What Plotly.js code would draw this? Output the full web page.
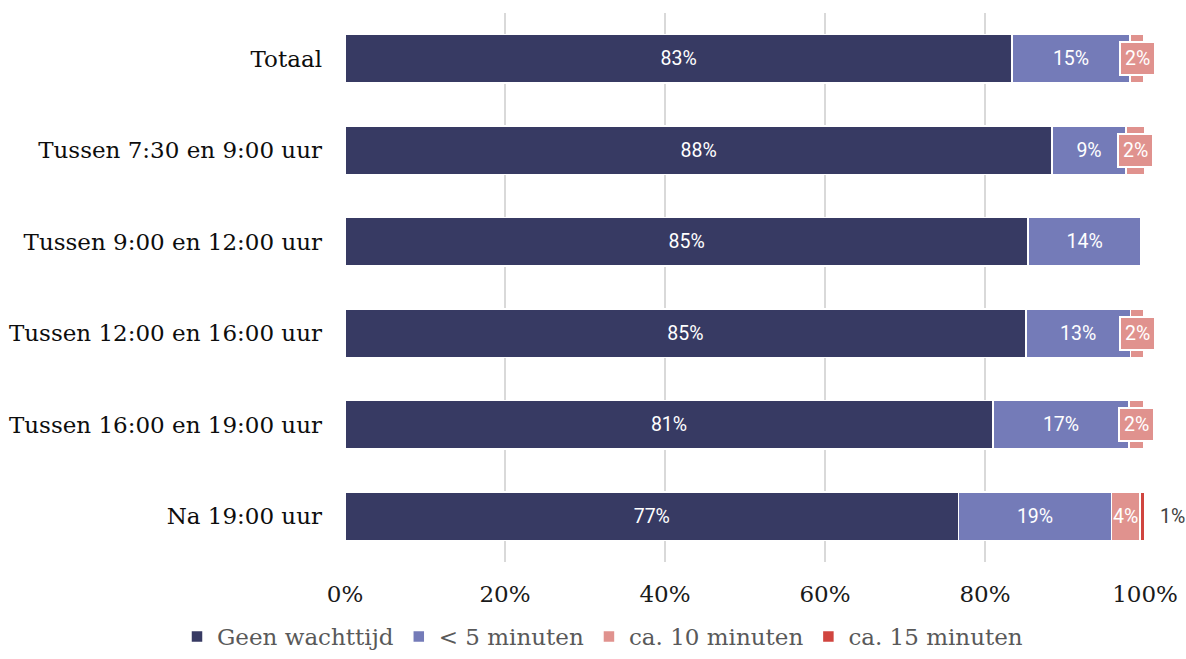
<!DOCTYPE html>
<html>
<head>
<meta charset="utf-8">
<script src="https://cdn.plot.ly/plotly-3.0.1.min.js"></script>
<style>html,body{margin:0;padding:0;background:#fff;}#chart{width:1186px;height:659px;}</style>
</head>
<body>
<div id="chart"></div>
<script>
const categories = ["Totaal", "Tussen 7:30 en 9:00 uur", "Tussen 9:00 en 12:00 uur", "Tussen 12:00 en 16:00 uur", "Tussen 16:00 en 19:00 uur", "Na 19:00 uur"];
const seriesNames = ["Geen wachttijd", "< 5 minuten", "ca. 10 minuten", "ca. 15 minuten"];
const geen = [83.4, 88.4, 85.4, 85.1, 81.0, 76.7];
const vijf = [14.7, 9.2, 14.1, 13.1, 17.0, 19.1];
const tien = [1.8, 2.4, 0, 1.7, 1.8, 3.6];
const vijftien = [0, 0, 0, 0, 0, 0.6];
const tickVals = [0, 20, 40, 60, 80, 100];
const tickText = ["0%", "20%", "40%", "60%", "80%", "100%"];
const colors = ["#373a63", "#747bb8", "#e0928e", "#d0453f"];

const serif = "DejaVu Serif, serif";
const sans = "Roboto, sans-serif";

function barTrace(vals, i, showText) {
  return {
    type: "bar", orientation: "h", name: seriesNames[i],
    y: categories, x: vals,
    marker: {color: colors[i], line: {color: "#ffffff", width: 1.5}},
    text: showText ? vals.map(v => v > 0 ? Math.round(v) + "%" : "") : undefined,
    texttemplate: showText ? "%{text}" : undefined,
    textposition: showText ? "inside" : "none",
    insidetextanchor: "middle",
    textfont: {family: sans, size: 19.5, color: "#ffffff"},
    hoverinfo: "x+name"
  };
}

const traces = [
  barTrace(geen, 0, true),
  barTrace(vijf, 1, true),
  barTrace(tien, 2, false),
  barTrace(vijftien, 3, false)
];

const annotations = [];
categories.forEach((c, k) => {
  const start = geen[k] + vijf[k];
  if (tien[k] > 0) {
    const boxed = tien[k] < 3;
    annotations.push({
      x: start + tien[k] / 2, y: c, xref: "x", yref: "y",
      text: Math.round(tien[k]) + "%", showarrow: false,
      font: {family: sans, size: 19.5, color: "#ffffff"},
      bgcolor: boxed ? colors[2] : "rgba(0,0,0,0)",
      bordercolor: boxed ? "#ffffff" : "rgba(0,0,0,0)",
      borderwidth: boxed ? 2 : 0, borderpad: boxed ? 4 : 0
    });
  }
  if (vijftien[k] > 0) {
    annotations.push({
      x: start + tien[k] + vijftien[k], y: c, xref: "x", yref: "y",
      xanchor: "left", xshift: 13,
      text: Math.round(vijftien[k]) + "%", showarrow: false,
      font: {family: sans, size: 19.5, color: "#404040"}
    });
  }
});

const layout = {
  width: 1186, height: 659,
  margin: {l: 345, r: 41, t: 0, b: 97},
  paper_bgcolor: "#ffffff", plot_bgcolor: "#ffffff",
  barmode: "stack", bargap: 0.47,
  showlegend: true,
  legend: {orientation: "h", x: -0.21, xanchor: "left", y: -0.1708, yanchor: "bottom",
    font: {family: serif, size: 23, color: "#595959"}, traceorder: "normal", itemwidth: 30},
  xaxis: {range: [0, 100], tickvals: tickVals, ticktext: tickText, showgrid: true, gridcolor: "#d9d9d9", gridwidth: 2,
    zeroline: false, showline: false, ticks: "", ticklabelstandoff: 16,
    tickfont: {family: serif, size: 23, color: "#1a1a1a"}, fixedrange: true},
  yaxis: {autorange: "reversed", domain: [0, 0.9769], showgrid: false, zeroline: false, showline: false, ticks: "", ticklabelstandoff: 22,
    tickfont: {family: serif, size: 23, color: "#0d0d0d"}, fixedrange: true},
  annotations: annotations
};

Plotly.newPlot("chart", traces, layout, {displayModeBar: false, staticPlot: true});
</script>
</body>
</html>
